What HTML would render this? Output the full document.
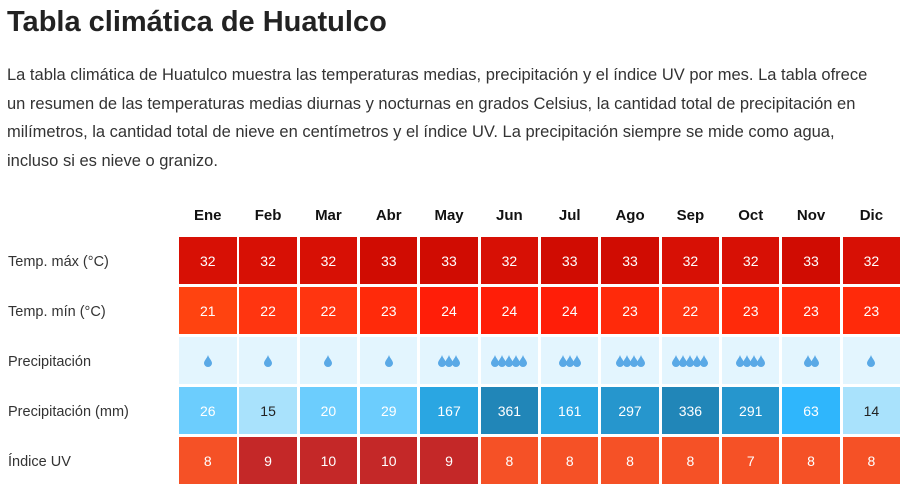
<!DOCTYPE html>
<html><head><meta charset="utf-8">
<style>
body{margin:0;width:916px;height:495px;background:#fff;font-family:"Liberation Sans","DejaVu Sans",sans-serif;color:#222;position:relative;overflow:hidden}
h1{position:absolute;left:7px;top:6px;margin:0;font-size:29px;font-weight:bold;color:#222}
p{position:absolute;left:7px;top:61px;margin:0;width:880px;font-size:16.5px;line-height:28.5px;color:#333}
.cell{position:absolute;display:flex;align-items:center;justify-content:center;font-size:14px;color:#fff}
.hdr{position:absolute;font-weight:bold;font-size:15px;text-align:center;color:#111}
.lbl{position:absolute;left:8px;font-size:14.5px;color:#333}
</style></head><body>
<h1>Tabla climática de Huatulco</h1>
<p>La tabla climática de Huatulco muestra las temperaturas medias, precipitación y el índice UV por mes. La tabla ofrece un resumen de las temperaturas medias diurnas y nocturnas en grados Celsius, la cantidad total de precipitación en milímetros, la cantidad total de nieve en centímetros y el índice UV. La precipitación siempre se mide como agua, incluso si es nieve o granizo.</p>
<div id="grid"></div>
<script>
const months=["Ene","Feb","Mar","Abr","May","Jun","Jul","Ago","Sep","Oct","Nov","Dic"];
const rowLabels=["Temp. máx (°C)","Temp. mín (°C)","Precipitación","Precipitación (mm)","Índice UV"];
const tmax=[32,32,32,33,33,32,33,33,32,32,33,32];
const tmin=[21,22,22,23,24,24,24,23,22,23,23,23];
const drops=[1,1,1,1,3,5,3,4,5,4,2,1];
const precip=[26,15,20,29,167,361,161,297,336,291,63,14];
const uv=[8,9,10,10,9,8,8,8,8,7,8,8];
const g=document.getElementById('grid');
const X0=179,PX=60.33,W=57.5,Y0=237,PY=50,H=47;
function maxC(v){return v>=33?'#d00c02':'#d71005';}
function minC(v){return v<=21?'#ff4310':v==22?'#ff3510':v==23?'#ff2a0a':'#ff1e08';}
function mmC(v){return v<16?'#a9e2fc':v<50?'#6ccdfd':v<100?'#2fb6fc':v<200?'#2aa6e2':v<320?'#2696cd':'#2186b8';}
function uvC(v){return v>=9?'#c42828':'#f55126';}
months.forEach((m,i)=>{
 const h=document.createElement('div');h.className='hdr';
 
 
 h.style.left=(X0+i*PX)+'px';h.style.width=W+'px';h.style.top='207px';h.textContent=m;g.appendChild(h);
});
rowLabels.forEach((l,r)=>{
 const d=document.createElement('div');d.className='lbl';
 
 
 d.style.top=(Y0+r*PY+17)+'px';d.textContent=l;g.appendChild(d);
});
function addCell(r,i,bg,txt,dark){
 const c=document.createElement('div');c.className='cell';
 
 
 c.style.left=(X0+i*PX)+'px';c.style.top=(Y0+r*PY)+'px';c.style.width=W+'px';c.style.height=H+'px';
 c.style.background=bg;if(dark)c.style.color='#222';c.textContent=txt;g.appendChild(c);return c;
}
months.forEach((m,i)=>{
 addCell(0,i,maxC(tmax[i]),tmax[i]);
 addCell(1,i,minC(tmin[i]),tmin[i]);
 const c=addCell(2,i,'#e3f5fe','');
 let s='';for(let k=0;k<drops[i];k++)s+='<svg width="8" height="12" viewBox="0 0 8 12" style="margin:0 -0.5px"><path d="M4 0 C5 3.5 8 5.5 8 8.3 A4 3.7 0 0 1 0 8.3 C0 5.5 3 3.5 4 0Z" fill="#5aa9e6"/></svg>';
 c.innerHTML=s;
 addCell(3,i,mmC(precip[i]),precip[i],precip[i]<16);
 addCell(4,i,uvC(uv[i]),uv[i]);
});
</script>
</body></html>
